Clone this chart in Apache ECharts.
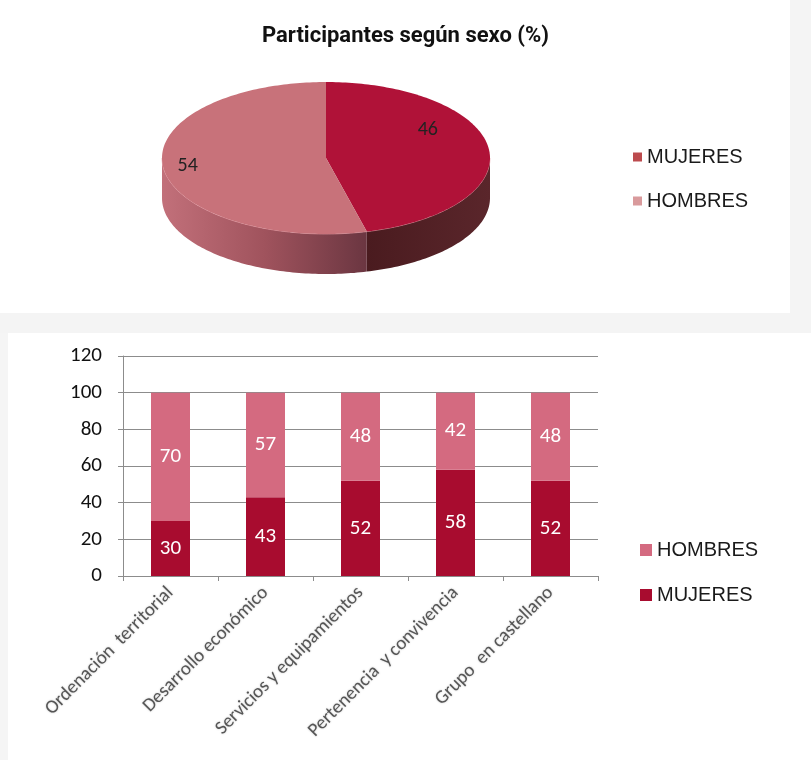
<!DOCTYPE html>
<html>
<head>
<meta charset="utf-8">
<title>Participantes según sexo (%)</title>
<script src="https://cdn.jsdelivr.net/npm/echarts@6/dist/echarts.min.js"></script>
<style>
  html, body { margin: 0; padding: 0; background: #ffffff; }
  #chart { width: 811px; height: 760px; }
</style>
</head>
<body>
<div id="chart"></div>
<script>
// Pie: participants by sex (%)
const pieNames = ['MUJERES', 'HOMBRES'];
const pieValues = [46, 54];

// Stacked bars: share of women / men per working group (%)
const categories = [
  'Ordenación  territorial',
  'Desarrollo económico',
  'Servicios y equipamientos',
  'Pertenencia  y convivencia',
  'Grupo  en castellano'
];
const mujeres = [30, 43, 52, 58, 52];
const hombres = [70, 57, 48, 42, 48];

// Y axis range and step
const yMin = 0, yMax = 120, yStep = 20;

// Geometry of the tilted pie (ellipse + depth)
const PIE = { cx: 326, cy: 158, rx: 164, ry: 76, depth: 40 };
// Where each slice's value label sits: fraction along the slice's sweep, fraction of the radius
const pieLabelPlace = [{ t: 0.36, r: 0.72 }, { t: 0.5, r: 0.85 }];

const pieTop = ['#b01238', '#c8727a'];
const pieSide = [
  new echarts.graphic.LinearGradient(0, 0, 1, 0, [
    { offset: 0, color: '#4a1b1f' }, { offset: 1, color: '#5a262b' }
  ]),
  new echarts.graphic.LinearGradient(0, 0, 1, 0, [
    { offset: 0, color: '#c2707a' }, { offset: 0.5, color: '#a0535d' }, { offset: 1, color: '#6b3641' }
  ])
];

const FONT_BODY = 'Carlito, Lato, "Open Sans", sans-serif';
const FONT_LEGEND = '"Liberation Sans", Arial, sans-serif';

function pieSlice(k) {
  return function (params, api) {
    const total = pieValues.reduce((a, b) => a + b, 0);
    let before = 0;
    for (let i = 0; i < k; i++) before += pieValues[i];
    const v = api.value(0);
    const a0 = before / total * 2 * Math.PI;
    const a1 = (before + v) / total * 2 * Math.PI;
    const pt = (t, dy) => [PIE.cx + PIE.rx * Math.sin(t), PIE.cy - PIE.ry * Math.cos(t) + dy];
    const arc = (s, e, dy) => {
      const n = Math.max(2, Math.ceil((e - s) / 0.02));
      const out = [];
      for (let i = 0; i <= n; i++) out.push(pt(s + (e - s) * i / n, dy));
      return out;
    };
    const children = [];
    // visible front wall of the slice
    const s = Math.max(a0, Math.PI / 2), e = Math.min(a1, 3 * Math.PI / 2);
    if (e > s) {
      const top = arc(s, e, 0);
      const bottom = arc(s, e, PIE.depth).reverse();
      children.push({
        type: 'polygon',
        shape: { points: top.concat(bottom) },
        style: { fill: pieSide[k] }
      });
      children.push({
        type: 'polyline',
        shape: { points: top },
        style: { stroke: 'rgba(235,160,170,0.6)', lineWidth: 1, fill: null }
      });
    }
    // top face
    children.push({
      type: 'polygon',
      shape: { points: [[PIE.cx, PIE.cy]].concat(arc(a0, a1, 0)) },
      style: { fill: pieTop[k] }
    });
    // value label
    const place = pieLabelPlace[k];
    const ang = a0 + (a1 - a0) * place.t;
    const lp = [PIE.cx + PIE.rx * place.r * Math.sin(ang), PIE.cy - PIE.ry * place.r * Math.cos(ang)];
    children.push({
      type: 'text',
      x: lp[0], y: lp[1],
      style: {
        text: String(v),
        fill: '#222',
        fontSize: 20,
        fontFamily: FONT_BODY,
        align: 'center',
        verticalAlign: 'middle'
      }
    });
    return { type: 'group', children: children };
  };
}

const chart = echarts.init(document.getElementById('chart'), null, { renderer: 'canvas' });

const option = {
  animation: false,
  backgroundColor: '#ffffff',
  graphic: [
    { type: 'rect', z: -10, silent: true, shape: { x: 790, y: 0, width: 21, height: 333 }, style: { fill: '#f4f4f4' } },
    { type: 'rect', z: -10, silent: true, shape: { x: 0, y: 313, width: 811, height: 20 }, style: { fill: '#f4f4f4' } },
    { type: 'rect', z: -10, silent: true, shape: { x: 0, y: 333, width: 8, height: 427 }, style: { fill: '#f5f5f5' } }
  ],
  title: {
    text: 'Participantes según sexo (%)',
    left: 'center',
    top: 20,
    textStyle: {
      fontFamily: 'Roboto, "DejaVu Sans Condensed", sans-serif',
      fontWeight: 'bold',
      fontSize: 22,
      color: '#111'
    }
  },
  legend: [
    {
      orient: 'vertical',
      left: 628,
      top: 142,
      itemGap: 24,
      itemWidth: 9,
      itemHeight: 9,
      selectedMode: false,
      textStyle: { fontFamily: FONT_LEGEND, fontSize: 20, color: '#1a1a1a' },
      data: [
        { name: 'MUJERES', icon: 'rect', itemStyle: { color: '#bc4b4e' } },
        { name: 'HOMBRES', icon: 'rect', itemStyle: { color: '#d99a9c' } }
      ]
    },
    {
      orient: 'vertical',
      left: 635,
      top: 535,
      itemGap: 25,
      itemWidth: 12,
      itemHeight: 12,
      selectedMode: false,
      textStyle: { fontFamily: FONT_LEGEND, fontSize: 20, color: '#1a1a1a' },
      data: [
        { name: 'HOMBRES', icon: 'rect', itemStyle: { color: '#d46a80' } },
        { name: 'MUJERES', icon: 'rect', itemStyle: { color: '#a80c2f' } }
      ]
    }
  ],
  grid: { left: 123, right: 213, top: 356, bottom: 184, containLabel: false },
  xAxis: {
    type: 'category',
    data: categories,
    axisLine: { show: true, lineStyle: { color: '#8c8c8c', width: 1 } },
    axisTick: { show: true, length: 5, lineStyle: { color: '#8c8c8c' } },
    axisLabel: {
      rotate: 45,
      interval: 0,
      margin: 14,
      fontFamily: FONT_BODY,
      fontSize: 19,
      color: '#555555',
      textShadowColor: 'rgba(0,0,0,0.25)',
      textShadowBlur: 2
    }
  },
  yAxis: {
    type: 'value',
    min: yMin,
    max: yMax,
    interval: yStep,
    axisLine: { show: true, lineStyle: { color: '#8c8c8c', width: 1 } },
    axisTick: { show: true, length: 5, lineStyle: { color: '#8c8c8c' } },
    splitLine: { show: true, lineStyle: { color: '#8c8c8c', width: 1 } },
    axisLabel: { margin: 21, fontFamily: FONT_BODY, fontSize: 21, color: '#111' }
  },
  series: [
    {
      name: 'MUJERES',
      type: 'custom',
      coordinateSystem: 'none',
      silent: true,
      data: [pieValues[0]],
      renderItem: pieSlice(0),
      z: 3
    },
    {
      name: 'HOMBRES',
      type: 'custom',
      coordinateSystem: 'none',
      silent: true,
      data: [pieValues[1]],
      renderItem: pieSlice(1),
      z: 3
    },
    {
      name: 'MUJERES',
      type: 'bar',
      stack: 'total',
      barWidth: 39,
      data: mujeres,
      itemStyle: { color: '#a80c2f' },
      label: { show: true, position: 'inside', color: '#ffffff', fontFamily: FONT_BODY, fontSize: 21 }
    },
    {
      name: 'HOMBRES',
      type: 'bar',
      stack: 'total',
      barWidth: 39,
      data: hombres,
      itemStyle: { color: '#d46a80' },
      label: { show: true, position: 'inside', color: '#ffffff', fontFamily: FONT_BODY, fontSize: 21 }
    }
  ]
};

chart.setOption(option);
</script>
</body>
</html>
